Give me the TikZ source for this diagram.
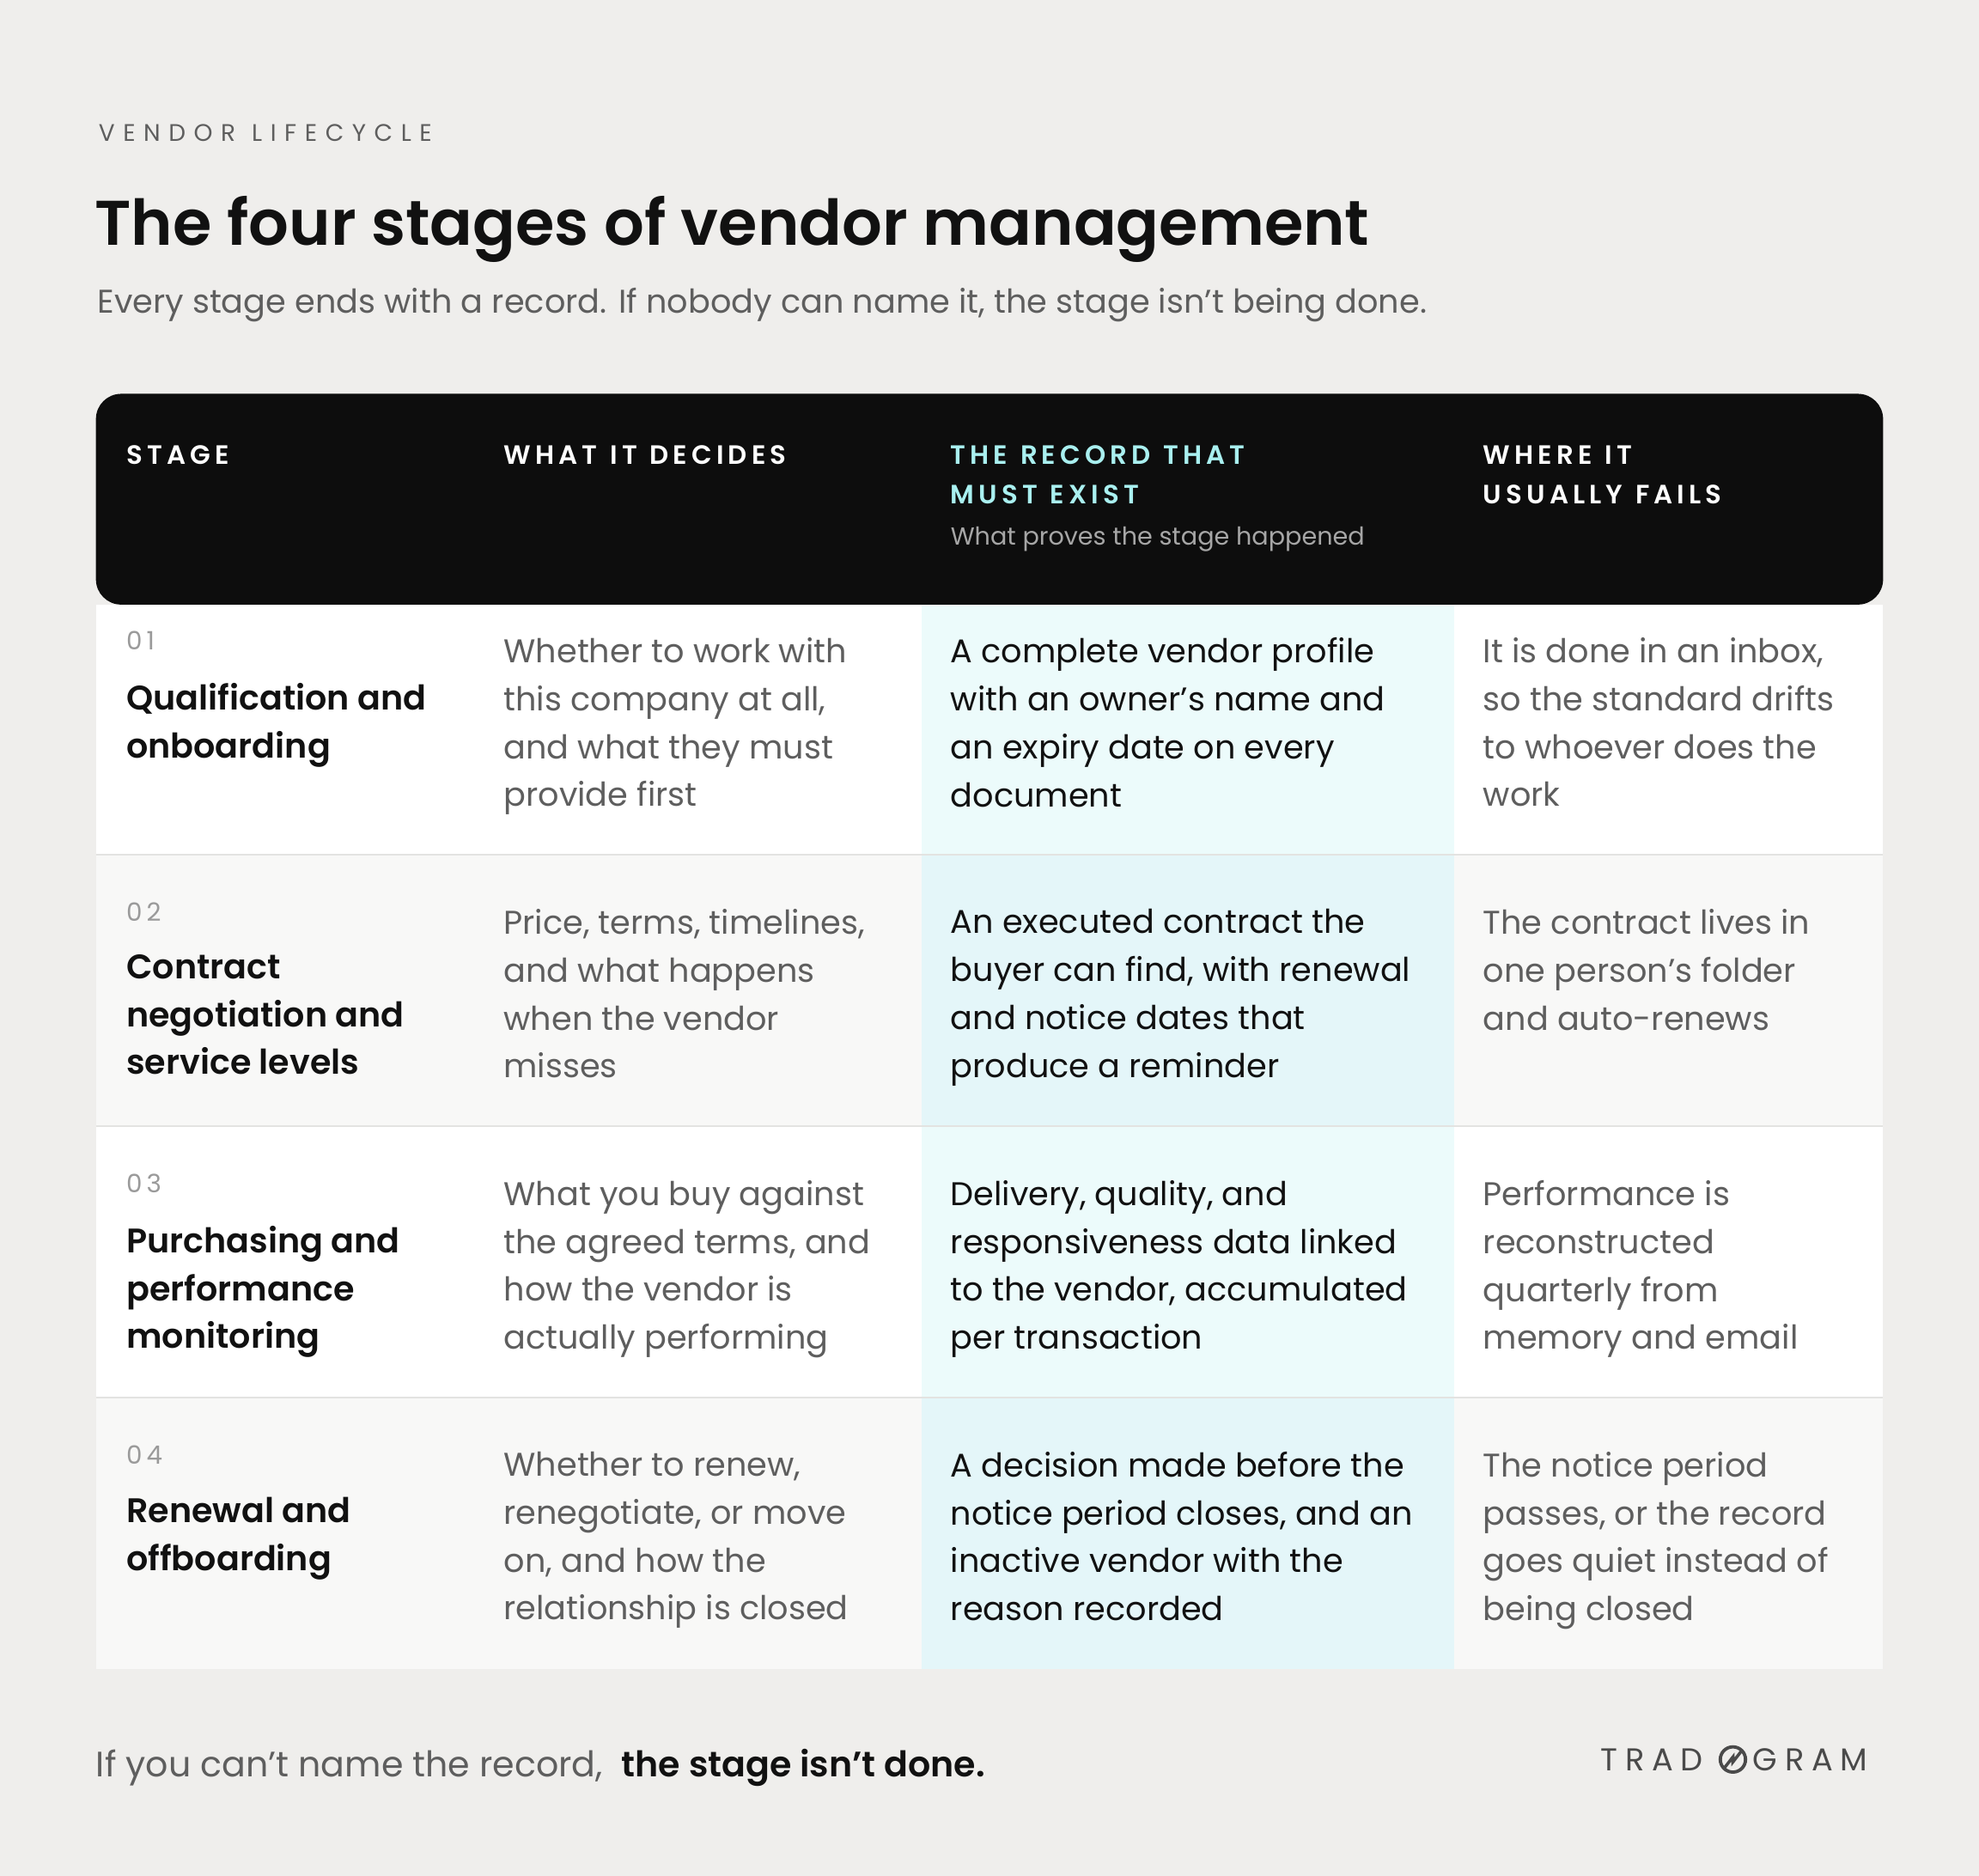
\documentclass[tikz,border=0pt]{standalone}
\usepackage{fontspec}
\setmainfont{Poppins}[BoldFont={Poppins SemiBold}]
\begin{document}
\begin{tikzpicture}[x=1pt,y=-1pt,
  body/.style={anchor=north west,inner sep=0pt,align=left,font=\fontsize{26}{38}\selectfont,text=txt},
  gray/.style={body,text=mid},
  ttl/.style={body,font=\fontsize{27}{38}\selectfont\bfseries,text=txt},
  num/.style={anchor=north west,inner sep=0pt,font=\fontsize{20}{22}\selectfont,text=numc},
  hd/.style={anchor=north west,inner sep=0pt,align=left,font=\fontsize{21}{31}\selectfont\bfseries,text=white}]
\definecolor{bg}{HTML}{EFEEEC}
\definecolor{txt}{HTML}{111111}
\definecolor{mid}{HTML}{5E5E5E}
\definecolor{numc}{HTML}{9A9A9A}
\definecolor{alt}{HTML}{F8F8F7}
\definecolor{hi1}{HTML}{ECFBFB}
\definecolor{hi2}{HTML}{E4F6F9}
\definecolor{teal}{HTML}{A9F0F0}
\definecolor{linec}{HTML}{E3E3E1}
\definecolor{logoc}{HTML}{4A4A4A}
\fill[bg] (0,0) rectangle (1568,1486);
\useasboundingbox (0,0) rectangle (1568,1486);
\node[anchor=west,inner sep=0pt,font=\fontsize{19}{20}\selectfont,text=mid] (kick) at (78,105) {V\hspace{6.5pt}E\hspace{6.5pt}N\hspace{6.5pt}D\hspace{6.5pt}O\hspace{6.5pt}R\hspace{13pt}L\hspace{6.5pt}I\hspace{6.5pt}F\hspace{6.5pt}E\hspace{6.5pt}C\hspace{6.5pt}Y\hspace{6.5pt}C\hspace{6.5pt}L\hspace{6.5pt}E};
\node[anchor=base west,inner sep=0pt,font=\fontsize{50}{56}\selectfont\bfseries,text=txt] (title) at (75,194) {The four stages of vendor management};
\node[anchor=base west,inner sep=0pt,font=\fontsize{26}{28}\selectfont,text=mid] (sub) at (77,248) {Every stage ends with a record. If nobody can name it, the stage isn't being done.};
% rows
\fill[white] (76,479) rectangle (1492,677);
\fill[alt] (76,677) rectangle (1492,892);
\fill[white] (76,892) rectangle (1492,1107);
\fill[alt] (76,1107) rectangle (1492,1322);
\fill[hi1] (730,479) rectangle (1152,677);
\fill[hi2] (730,677) rectangle (1152,892);
\fill[hi1] (730,892) rectangle (1152,1107);
\fill[hi2] (730,1107) rectangle (1152,1322);
\draw[linec,line width=1.2] (76,677) -- (1492,677) (76,892) -- (1492,892) (76,1107) -- (1492,1107);
\fill[black!95,rounded corners=20] (76,312) rectangle (1492,479);
% header
\node[hd] (h1) at (100,353) {S\,T\,A\,G\,E};
\node[hd] (h2) at (399,353) {W\,H\,A\,T\ \ I\,T\ \ D\,E\,C\,I\,D\,E\,S};
\node[hd,text=teal] (h3) at (753,353) {T\,H\,E\ \ R\,E\,C\,O\,R\,D\ \ T\,H\,A\,T\\M\,U\,S\,T\ \ E\,X\,I\,S\,T};
\node[anchor=north west,inner sep=0pt,font=\fontsize{19.5}{22}\selectfont,text=white!65!black] (h3s) at (753,417) {What proves the stage happened};
\node[hd] (h4) at (1175,353) {W\,H\,E\,R\,E\ \ I\,T\\U\,S\,U\,A\,L\,L\,Y\ \ F\,A\,I\,L\,S};
% row 1
\node[num] (n1) at (100,500) {0\,1};
\node[ttl] (t1) at (100,541) {Qualification and\\onboarding};
\node[gray] (d1) at (399,505) {Whether to work with\\this company at all,\\and what they must\\provide first};
\node[body] (r1) at (753,505) {A complete vendor profile\\with an owner's name and\\an expiry date on every\\document};
\node[gray] (f1) at (1175,505) {It is done in an inbox,\\so the standard drifts\\to whoever does the\\work};
% row 2
\node[num] (n2) at (100,715) {0\,2};
\node[ttl] (t2) at (100,756) {Contract\\negotiation and\\service levels};
\node[gray] (d2) at (399,720) {Price, terms, timelines,\\and what happens\\when the vendor\\misses};
\node[body] (r2) at (753,720) {An executed contract the\\buyer can find, with renewal\\and notice dates that\\produce a reminder};
\node[gray] (f2) at (1175,720) {The contract lives in\\one person's folder\\and auto-renews};
% row 3
\node[num] (n3) at (100,930) {0\,3};
\node[ttl] (t3) at (100,971) {Purchasing and\\performance\\monitoring};
\node[gray] (d3) at (399,935) {What you buy against\\the agreed terms, and\\how the vendor is\\actually performing};
\node[body] (r3) at (753,935) {Delivery, quality, and\\responsiveness data linked\\to the vendor, accumulated\\per transaction};
\node[gray] (f3) at (1175,935) {Performance is\\reconstructed\\quarterly from\\memory and email};
% row 4
\node[num] (n4) at (100,1145) {0\,4};
\node[ttl] (t4) at (100,1186) {Renewal and\\offboarding};
\node[gray] (d4) at (399,1150) {Whether to renew,\\renegotiate, or move\\on, and how the\\relationship is closed};
\node[body] (r4) at (753,1150) {A decision made before the\\notice period closes, and an\\inactive vendor with the\\reason recorded};
\node[gray] (f4) at (1175,1150) {The notice period\\passes, or the record\\goes quiet instead of\\being closed};
% footer
\node[anchor=base west,inner sep=0pt,font=\fontsize{28}{30}\selectfont,text=mid] (foot) at (76,1408) {If you can't name the record,\ \ \textcolor{txt}{\bfseries the stage isn't done.}};
\node[anchor=base east,inner sep=0pt,font=\fontsize{25}{28}\selectfont,text=logoc] (logo2) at (1480,1403) {G\hspace{6pt}R\hspace{6pt}A\hspace{6pt}M};
\node[anchor=base west,inner sep=0pt,font=\fontsize{25}{28}\selectfont,text=logoc] (logo1) at (1268,1403) {T\hspace{6pt}R\hspace{6pt}A\hspace{6pt}D};
\node[circle,draw=logoc,line width=2.6,minimum size=20pt,inner sep=0pt] (logoo) at (1373,1394) {};
\draw[logoc,line width=2.4] (1366,1401) -- (1373,1392) -- (1373,1396) -- (1380,1387);
\end{tikzpicture}
\end{document}
